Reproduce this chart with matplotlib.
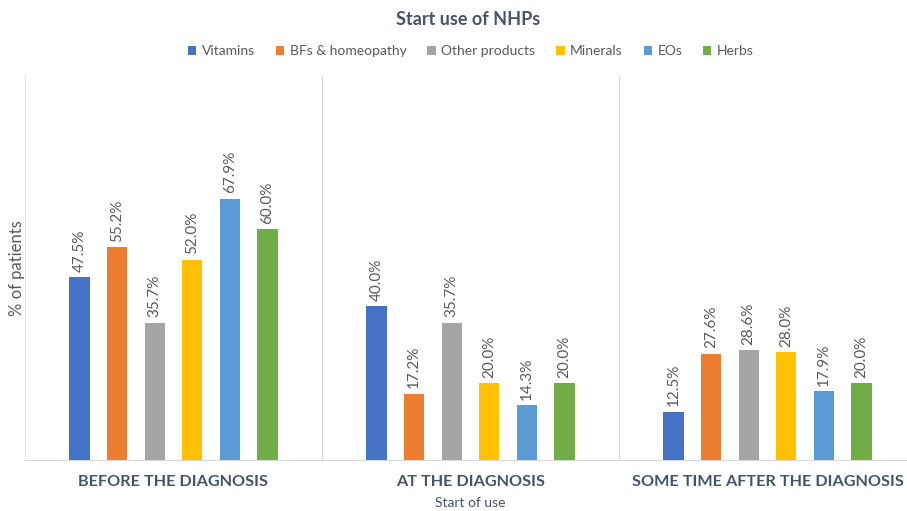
import matplotlib.pyplot as plt
import numpy as np

plt.rcParams['font.family'] = ['Lato', 'DejaVu Sans']

groups = ['BEFORE THE DIAGNOSIS', 'AT THE DIAGNOSIS', 'SOME TIME AFTER THE DIAGNOSIS']
series = ['Vitamins', 'BFs & homeopathy', 'Other products', 'Minerals', 'EOs', 'Herbs']
colors = ['#4472C4', '#ED7D31', '#A5A5A5', '#FFC000', '#5B9BD5', '#70AD47']

vitamins = [47.5, 40.0, 12.5]
bfs_homeopathy = [55.2, 17.2, 27.6]
other_products = [35.7, 35.7, 28.6]
minerals = [52.0, 20.0, 28.0]
eos = [67.9, 14.3, 17.9]
herbs = [60.0, 20.0, 20.0]
values = [vitamins, bfs_homeopathy, other_products, minerals, eos, herbs]

text_col = '#44546A'
label_col = '#595959'

fig = plt.figure(figsize=(9.07, 5.11), dpi=100)
ax = fig.add_axes([25 / 907, 51 / 511, 891 / 907, 385 / 511])

x = np.arange(len(groups))
step = 0.1266
width = 0.068
for i, (name, vals, c) in enumerate(zip(series, values, colors)):
    pos = x + (i - 2.5) * step
    ax.bar(pos, vals, width, color=c, label=name, zorder=3)
    for px, v in zip(pos, vals):
        ax.text(px, v + 1.4, f'{v:.1f}%', rotation=90, ha='center', va='bottom',
                fontsize=11, color=label_col)

ax.set_xlim(-0.5, 2.5)
ax.set_ylim(0, 100)
ax.set_yticks([])
ax.set_xticks([])
for s in ['top', 'right']:
    ax.spines[s].set_visible(False)
ax.spines['bottom'].set_color('#D9D9D9')
ax.spines['left'].set_color('#E4E4E4')
ax.spines['left'].set_linewidth(0.9)
for b in [0.5, 1.5]:
    ax.axvline(b, color='#D9D9D9', lw=0.9, zorder=1)

for xi, g in zip(x, groups):
    ax.text(xi, -5.6, g, ha='center', va='center', fontsize=11.7, fontweight='bold',
            color=text_col, transform=ax.transData)

fig.text(470 / 907, 1 - 503 / 511, 'Start of use', ha='center', va='center',
         fontsize=10, color=text_col)
fig.text(17 / 907, 1 - 268 / 511, '% of patients', rotation=90, ha='center', va='center',
         fontsize=12, color=label_col)
fig.text(468 / 907, 1 - 19 / 511, 'Start use of NHPs', ha='center', va='center',
         fontsize=13, fontweight='bold', color=text_col)

fig.legend(loc='center', bbox_to_anchor=(471 / 907, 1 - 51 / 511), ncol=6, frameon=False,
           fontsize=10, handlelength=0.6, handleheight=0.6, handletextpad=0.4,
           columnspacing=1.5, labelcolor=label_col)

fig.savefig('out.png', dpi=100)
